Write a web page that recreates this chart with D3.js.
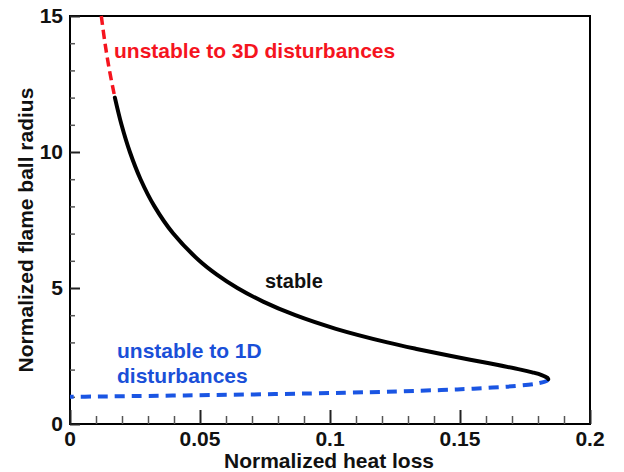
<!DOCTYPE html>
<html>
<head>
<meta charset="utf-8">
<script src="https://cdn.jsdelivr.net/npm/d3@7/dist/d3.min.js"></script>
<style>
  html, body { margin: 0; padding: 0; background: #fff; }
  svg text { font-family: "Liberation Sans", Arial, Helvetica, sans-serif; font-weight: bold; }
</style>
</head>
<body>
<svg id="chart" width="624" height="472"></svg>
<script>
// ---- data ----
// upper branch, unstable to 3D disturbances (red dashed)
const heatLoss3D = [0.01204, 0.01346, 0.01518, 0.01726];
const radius3D   = [15, 14, 13, 12];
// stable branch (black solid)
const heatLossStable = [0.01726, 0.01982, 0.02303, 0.02713, 0.03249, 0.03971, 0.04977, 0.05636, 0.06438, 0.07428,
                        0.08664, 0.10227, 0.12207, 0.13377, 0.14661, 0.16018, 0.17329, 0.17780, 0.18142, 0.18361, 0.18394];
const radiusStable   = [12, 11, 10, 9, 8, 7, 6, 5.5, 5, 4.5,
                        4, 3.5, 3, 2.75, 2.5, 2.25, 2.0, 1.9, 1.8, 1.7, 1.65];
// lower branch, unstable to 1D disturbances (blue dashed)
const heatLoss1D = [0.18394, 0.18360, 0.18021, 0.17167, 0.15524, 0.14281, 0.12661, 0.10568, 0.07877, 0.04425, 0.01903, 0.00975, 0];
const radius1D   = [1.65, 1.6, 1.5, 1.4, 1.3, 1.25, 1.2, 1.15, 1.1, 1.05, 1.02, 1.01, 1.0];

const xTicks = [0, 0.05, 0.1, 0.15, 0.2];
const xTickLabels = ["0", "0.05", "0.1", "0.15", "0.2"];
const xMinorTicks = [0.01,0.02,0.03,0.04,0.06,0.07,0.08,0.09,0.11,0.12,0.13,0.14,0.16,0.17,0.18,0.19];
const yTicks = [0, 5, 10, 15];
const yTickLabels = ["0", "5", "10", "15"];
const yMinorTicks = [1,2,3,4,6,7,8,9,11,12,13,14];

// ---- layout ----
const svg = d3.select("#chart");
const L = 70, R = 590, T = 16, B = 424;
const x = d3.scaleLinear().domain([0, 0.2]).range([L, R]);
const y = d3.scaleLinear().domain([0, 15]).range([B, T]);

// frame
svg.append("rect").attr("x", L).attr("y", T).attr("width", R - L).attr("height", B - T)
  .attr("fill", "none").attr("stroke", "#000").attr("stroke-width", 2);

// x axis
const xAxisMajor = d3.axisTop(x).tickValues(xTicks).tickSize(14).tickFormat("");
const xAxisMinor = d3.axisTop(x).tickValues(xMinorTicks).tickSize(8).tickFormat("");
const gxMaj = svg.append("g").attr("transform", `translate(0,${B})`).call(xAxisMajor);
const gxMin = svg.append("g").attr("transform", `translate(0,${B})`).call(xAxisMinor);
[gxMaj, gxMin].forEach(g => { g.select(".domain").remove(); g.selectAll("line").attr("stroke", "#555").attr("stroke-width", 1.5); });
gxMaj.selectAll("line").attr("stroke", "#222").attr("stroke-width", 2);

svg.append("g").selectAll("text").data(xTicks).join("text")
  .attr("x", d => x(d)).attr("y", B + 22).attr("text-anchor", "middle")
  .attr("font-size", 21).attr("fill", "#111")
  .text((d, i) => xTickLabels[i]);

// y axis
const yAxisMajor = d3.axisRight(y).tickValues(yTicks).tickSize(10).tickFormat("");
const yAxisMinor = d3.axisRight(y).tickValues(yMinorTicks).tickSize(5).tickFormat("");
const gyMaj = svg.append("g").attr("transform", `translate(${L},0)`).call(yAxisMajor);
const gyMin = svg.append("g").attr("transform", `translate(${L},0)`).call(yAxisMinor);
[gyMaj, gyMin].forEach(g => { g.select(".domain").remove(); g.selectAll("line").attr("stroke", "#555").attr("stroke-width", 1.5); });
gyMaj.selectAll("line").attr("stroke", "#222").attr("stroke-width", 2);

svg.append("g").selectAll("text").data(yTicks).join("text")
  .attr("x", L - 7).attr("y", d => y(d) + 7).attr("text-anchor", "end")
  .attr("font-size", 21).attr("fill", "#111")
  .text((d, i) => yTickLabels[i]);

// axis titles
svg.append("text").attr("x", 329).attr("y", 468).attr("text-anchor", "middle")
  .attr("font-size", 21).attr("fill", "#111").text("Normalized heat loss");
svg.append("text").attr("transform", "translate(33,230) rotate(-90)").attr("text-anchor", "middle")
  .attr("font-size", 21).attr("fill", "#111").text("Normalized flame ball radius");

// curves
const line = d3.line().x(d => x(d[0])).y(d => y(d[1])).curve(d3.curveCatmullRom);
const zip = (a, b) => a.map((v, i) => [v, b[i]]);

svg.append("path").datum(zip(heatLoss1D, radius1D)).attr("d", line)
  .attr("fill", "none").attr("stroke", "#1a55e3").attr("stroke-width", 4)
  .attr("stroke-dasharray", "10,7");
svg.append("path").datum(zip(heatLossStable, radiusStable)).attr("d", line)
  .attr("fill", "none").attr("stroke", "#000").attr("stroke-width", 4).attr("stroke-linecap", "round");
svg.append("path").datum(zip(heatLoss3D, radius3D)).attr("d", line)
  .attr("fill", "none").attr("stroke", "#f5141e").attr("stroke-width", 3.5)
  .attr("stroke-dasharray", "9,5");

// annotations
svg.append("text").attr("x", 114).attr("y", 58).attr("font-size", 21).attr("fill", "#f5141e")
  .text("unstable to 3D disturbances");
svg.append("text").attr("x", 265).attr("y", 288).attr("font-size", 20).attr("fill", "#111")
  .text("stable");
svg.append("text").attr("x", 117).attr("y", 358).attr("font-size", 21).attr("fill", "#1a4fd8")
  .text("unstable to 1D");
svg.append("text").attr("x", 117).attr("y", 383).attr("font-size", 21).attr("fill", "#1a4fd8")
  .text("disturbances");
</script>
</body>
</html>
